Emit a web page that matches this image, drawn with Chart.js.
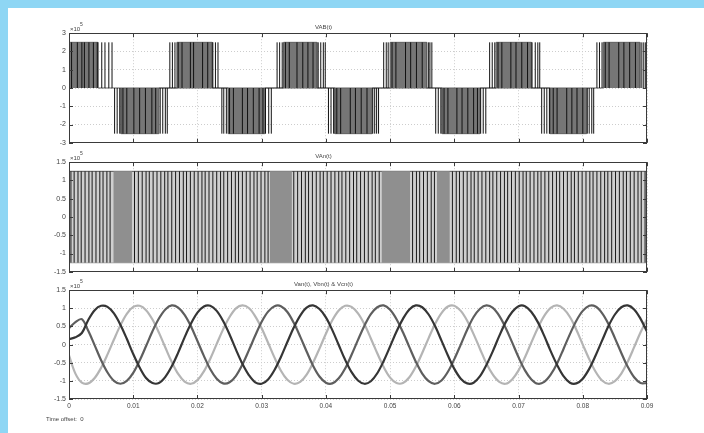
<!DOCTYPE html>
<html>
<head>
<meta charset="utf-8">
<script src="https://cdn.jsdelivr.net/npm/chart.js@4.4.1/dist/chart.umd.min.js"></script>
<style>
  html, body { margin: 0; padding: 0; background: #fff; }
  body { width: 704px; height: 433px; position: relative; overflow: hidden; font-family: "Liberation Sans", Arial, sans-serif; }
  .band-top { position: absolute; left: 0; top: 0; width: 704px; height: 8px; background: #8ed6f4; }
  .band-left { position: absolute; left: 0; top: 0; width: 8px; height: 433px; background: #8ed6f4; }
  canvas { position: absolute; left: 0; }
  #offset { position: absolute; left: 46px; top: 416px; font-size: 6px; color: #444; white-space: pre; }
</style>
</head>
<body>
<div class="band-top"></div>
<div class="band-left"></div>
<canvas id="vabChart" width="704" height="150" style="top:0px"></canvas>
<canvas id="vanChart" width="704" height="150" style="top:129px"></canvas>
<canvas id="phaseChart" width="704" height="159" style="top:257px"></canvas>
<div id="offset">Time offset:  0</div>
<script>
// ---- data (voltages in units of 1e5 V, times in ms) ----
const vabLevel = 2.5;
const vanLevel = 1.25;

// dense (grey) part of each VAB half-cycle
const vabPosCoreStart = [0, 16.8, 33.4, 50.0, 66.5, 83.2];
const vabPosCoreEnd   = [4.5, 22.3, 38.6, 55.7, 72.0, 88.9];
const vabNegCoreStart = [8.1, 24.8, 41.4, 58.1, 74.9];
const vabNegCoreEnd   = [14.0, 30.5, 47.2, 64.0, 80.6];

// individual switching pulses visible as black lines
const vabPosLines = [0.4, 1.3, 2.0, 2.4, 3.1, 3.8, 4.4, 5.1, 5.6, 6.2, 6.7,
  15.7, 16.1, 16.5, 17.0, 17.6, 18.9, 19.4, 20.8, 21.6, 22.4, 22.8, 23.2,
  32.4, 32.8, 33.2, 33.7, 34.3, 35.5, 36.4, 37.2, 38.0, 38.8, 39.2, 39.6, 39.9,
  49.0, 49.4, 49.7, 50.3, 50.9, 52.4, 53.2, 54.1, 55.0, 56.0, 56.2, 56.5,
  65.5, 65.9, 66.3, 66.8, 67.4, 68.8, 69.6, 70.5, 71.4, 72.1, 72.6, 73.0, 73.3,
  82.2, 82.6, 83.0, 83.5, 84.1, 85.6, 86.4, 87.3, 88.2, 89.2, 89.5, 89.8];
const vabNegLines = [7.1, 7.5, 7.9, 8.4, 9.0, 10.1, 11.0, 11.9, 12.9, 13.5, 14.2, 14.6, 15.0, 15.3,
  23.8, 24.1, 24.5, 25.0, 25.6, 27.0, 27.8, 28.7, 29.6, 30.2, 30.6, 31.1, 31.5,
  40.4, 40.8, 41.2, 41.7, 42.3, 43.8, 44.6, 45.5, 46.4, 47.3, 47.6, 47.9, 48.2,
  57.1, 57.5, 57.9, 58.4, 59.0, 60.4, 61.2, 62.1, 63.0, 63.6, 64.1, 64.5, 64.9,
  73.6, 74.0, 74.4, 74.8, 75.4, 76.0, 77.5, 78.3, 79.1, 80.0, 80.7, 81.0, 81.4, 81.7];

// VAn: darker stretches of the band and visible switching lines
const vanDarkStart = [6.9, 31.3, 48.7, 57.3];
const vanDarkEnd   = [9.8, 34.7, 53.1, 59.3];
const vanLines = [0.3, 0.8, 1.4, 1.9, 2.5, 3.1, 3.6, 4.2, 4.8, 5.3, 5.9, 6.4,
  10.2, 10.8, 11.4, 12.0, 12.5, 13.1, 13.7, 14.3, 14.9, 15.4, 16.0, 16.6, 17.2, 17.8, 18.3, 18.9,
  19.5, 20.1, 20.7, 21.2, 21.8, 22.4, 23.0, 23.6, 24.1, 24.7, 25.3, 25.9, 26.4, 27.0, 27.6, 28.2,
  28.8, 29.3, 29.9, 30.5, 31.0,
  35.0, 35.6, 36.2, 36.8, 37.3, 37.9, 38.5, 39.1, 39.6, 40.2, 40.8, 41.4, 42.0, 42.5, 43.1, 43.7,
  44.3, 44.8, 45.4, 46.0, 46.6, 47.2, 47.7, 48.3,
  53.5, 54.1, 54.6, 55.2, 55.8, 56.4, 56.9,
  59.7, 60.3, 60.8, 61.4, 62.0, 62.6, 63.1, 63.7, 64.3, 64.9, 65.5, 66.0, 66.6, 67.2, 67.8, 68.3,
  68.9, 69.5, 70.1, 70.7, 71.2, 71.8, 72.4, 73.0, 73.5, 74.1, 74.7, 75.3, 75.9, 76.4, 77.0, 77.6,
  78.2, 78.7, 79.3, 79.9, 80.5, 81.1, 81.6, 82.2, 82.8, 83.4, 83.9, 84.5, 85.1, 85.7, 86.3, 86.8,
  87.4, 88.0, 88.6, 89.1, 89.7];

// phase voltages sampled every 1 ms from 0 to 90 ms
const sampleStepMs = 1;
const vanSeries = [0.15, 0.20, 0.32, 0.68, 0.95, 1.07, 1.04, 0.86, 0.55, 0.16,
  -0.26, -0.63, -0.92, -1.06, -1.06, -0.89, -0.60, -0.22, 0.20, 0.58,
  0.88, 1.05, 1.07, 0.93, 0.65, 0.28, -0.14, -0.53, -0.84, -1.04,
  -1.08, -0.96, -0.70, -0.34, 0.07, 0.47, 0.80, 1.02, 1.08, 0.98,
  0.75, 0.40, -0.01, -0.42, -0.76, -0.99, -1.08, -1.01, -0.79, -0.45,
  -0.05, 0.36, 0.71, 0.97, 1.08, 1.03, 0.83, 0.51, 0.11, -0.30,
  -0.67, -0.94, -1.07, -1.05, -0.87, -0.56, -0.18, 0.24, 0.62, 0.90,
  1.06, 1.06, 0.90, 0.62, 0.24, -0.18, -0.56, -0.87, -1.05, -1.07,
  -0.94, -0.67, -0.30, 0.11, 0.51, 0.83, 1.03, 1.08, 0.97, 0.71, 0.36];
const vbnSeries = [-0.30, -0.80, -1.05, -1.07, -0.92, -0.64, -0.27, 0.14, 0.53, 0.85,
  1.04, 1.07, 0.95, 0.69, 0.33, -0.08, -0.48, -0.81, -1.02, -1.08,
  -0.98, -0.74, -0.39, 0.02, 0.42, 0.76, 1.00, 1.08, 1.01, 0.78,
  0.45, 0.05, -0.36, -0.72, -0.97, -1.08, -1.03, -0.83, -0.50, -0.11,
  0.30, 0.67, 0.94, 1.07, 1.04, 0.86, 0.56, 0.17, -0.24, -0.62,
  -0.91, -1.06, -1.06, -0.90, -0.61, -0.23, 0.18, 0.57, 0.87, 1.05,
  1.07, 0.93, 0.66, 0.29, -0.12, -0.52, -0.83, -1.03, -1.08, -0.96,
  -0.71, -0.35, 0.06, 0.46, 0.79, 1.01, 1.08, 0.99, 0.76, 0.41,
  0.00, -0.40, -0.75, -0.99, -1.08, -1.01, -0.80, -0.47, -0.07, 0.34, 0.70];
const vcnSeries = [0.45, 0.62, 0.70, 0.38, -0.02, -0.43, -0.77, -1.00, -1.08, -1.00,
  -0.78, -0.44, -0.04, 0.37, 0.72, 0.97, 1.08, 1.02, 0.82, 0.50,
  0.10, -0.31, -0.68, -0.94, -1.07, -1.04, -0.86, -0.55, -0.16, 0.25,
  0.63, 0.91, 1.06, 1.06, 0.90, 0.60, 0.22, -0.19, -0.58, -0.88,
  -1.05, -1.07, -0.93, -0.66, -0.28, 0.13, 0.52, 0.84, 1.03, 1.08,
  0.96, 0.70, 0.34, -0.07, -0.47, -0.80, -1.01, -1.08, -0.99, -0.75,
  -0.40, 0.00, 0.41, 0.76, 0.99, 1.08, 1.01, 0.79, 0.46, 0.06,
  -0.35, -0.71, -0.96, -1.08, -1.03, -0.83, -0.52, -0.12, 0.29, 0.66,
  0.93, 1.07, 1.05, 0.87, 0.57, 0.18, -0.23, -0.61, -0.90, -1.06, -1.06];

// ---- helpers ----
const FONT = '"Liberation Sans", Arial, sans-serif';

function blockPoints(starts, ends, lo, hi) {
  const pts = [];
  starts.forEach((s, i) => {
    pts.push({x: s / 1000, y: lo}, {x: s / 1000, y: hi}, {x: ends[i] / 1000, y: hi}, {x: ends[i] / 1000, y: lo});
  });
  return pts;
}

function linePoints(times, lo, hi) {
  const pts = [];
  times.forEach(t => {
    pts.push({x: t / 1000, y: lo}, {x: t / 1000, y: hi}, {x: t / 1000, y: null});
  });
  return pts;
}

// box, inward tick marks and the x10^5 exponent, as on a scope
const scopeFrame = {
  id: 'scopeFrame',
  afterDraw(chart) {
    const {ctx, chartArea: a, scales: {x, y}} = chart;
    ctx.save();
    ctx.strokeStyle = '#3a3a3a';
    ctx.lineWidth = 1;
    ctx.strokeRect(Math.round(a.left) + 0.5, Math.round(a.top) + 0.5, Math.round(a.width) - 1, Math.round(a.height) - 1);
    ctx.beginPath();
    x.ticks.forEach(t => {
      const px = Math.round(x.getPixelForValue(t.value)) + 0.5;
      ctx.moveTo(px, a.top); ctx.lineTo(px, a.top + 4);
      ctx.moveTo(px, a.bottom); ctx.lineTo(px, a.bottom - 4);
    });
    y.ticks.forEach(t => {
      const py = Math.round(y.getPixelForValue(t.value)) + 0.5;
      ctx.moveTo(a.left, py); ctx.lineTo(a.left + 4, py);
      ctx.moveTo(a.right, py); ctx.lineTo(a.right - 4, py);
    });
    ctx.stroke();
    ctx.fillStyle = '#444';
    ctx.textBaseline = 'alphabetic';
    ctx.font = '6px ' + FONT;
    ctx.fillText('\u00d710', a.left + 1, a.top - 2);
    ctx.font = '5px ' + FONT;
    ctx.fillText('5', a.left + 11, a.top - 7);
    ctx.restore();
  }
};

function scopeOptions(cfg) {
  return {
    responsive: false,
    animation: false,
    devicePixelRatio: 1,
    layout: { padding: { top: 23.5, bottom: cfg.padBottom, left: 0, right: 57 } },
    plugins: {
      legend: { display: false },
      tooltip: { enabled: false },
      title: {
        display: true,
        text: cfg.title,
        color: '#444',
        font: { family: FONT, size: 6, weight: 'normal' },
        padding: { top: 0, bottom: 2.5 }
      }
    },
    elements: { point: { radius: 0 } },
    scales: {
      x: {
        type: 'linear', min: 0, max: 0.09, offset: false,
        ticks: { display: cfg.showX, stepSize: 0.01, color: '#444', font: { family: FONT, size: 6.5 }, padding: 3,
                 maxRotation: 0, autoSkip: false, callback: v => String(+v.toFixed(3)) },
        grid: { color: '#cdcdcd', drawTicks: false, offset: false },
        border: { display: false, dash: [1, 2] },
        afterFit: s => { s.height = cfg.xHeight; }
      },
      y: {
        min: cfg.yMin, max: cfg.yMax,
        ticks: { stepSize: cfg.yStep, color: '#444', font: { family: FONT, size: 7 }, padding: 3,
                 callback: v => String(+v.toFixed(2)) },
        grid: { color: '#cdcdcd', drawTicks: false },
        border: { display: false, dash: [1, 2] },
        afterFit: s => { s.width = 69; }
      }
    }
  };
}

// ---- VAB(t) ----
new Chart(document.getElementById('vabChart').getContext('2d'), {
  type: 'line',
  data: {
    datasets: [
      { data: linePoints(vabPosLines, 0, vabLevel), borderColor: '#111', borderWidth: 1, fill: false },
      { data: linePoints(vabNegLines, -vabLevel, 0), borderColor: '#111', borderWidth: 1, fill: false },
      { data: blockPoints(vabPosCoreStart, vabPosCoreEnd, 0, vabLevel), borderColor: '#5e5e5e', borderWidth: 1,
        fill: 'origin', backgroundColor: '#767676' },
      { data: blockPoints(vabNegCoreStart, vabNegCoreEnd, 0, -vabLevel), borderColor: '#5e5e5e', borderWidth: 1,
        fill: 'origin', backgroundColor: '#767676' }
    ]
  },
  options: scopeOptions({ title: 'VAB(t)', yMin: -3, yMax: 3, yStep: 1, showX: false, xHeight: 0, padBottom: 7 }),
  plugins: [scopeFrame]
});

// ---- VAn(t) ----
new Chart(document.getElementById('vanChart').getContext('2d'), {
  type: 'line',
  data: {
    datasets: [
      { data: linePoints(vanLines, -vanLevel, vanLevel), borderColor: '#1a1a1a', borderWidth: 1, fill: false },
      { data: blockPoints(vanDarkStart, vanDarkEnd, -vanLevel, vanLevel), borderWidth: 0,
        fill: { value: -vanLevel }, backgroundColor: '#8f8f8f' },
      { data: [{x: 0, y: vanLevel}, {x: 0.09, y: vanLevel}], borderColor: '#555', borderWidth: 1,
        fill: { value: -vanLevel }, backgroundColor: '#cfcfcf' },
      { data: [{x: 0, y: -vanLevel}, {x: 0.09, y: -vanLevel}], borderColor: '#555', borderWidth: 1, fill: false }
    ]
  },
  options: scopeOptions({ title: 'VAn(t)', yMin: -1.5, yMax: 1.5, yStep: 0.5, showX: false, xHeight: 0, padBottom: 7 }),
  plugins: [scopeFrame]
});

// ---- Van, Vbn, Vcn ----
const toPts = arr => arr.map((v, i) => ({ x: i * sampleStepMs / 1000, y: v }));
new Chart(document.getElementById('phaseChart').getContext('2d'), {
  type: 'line',
  data: {
    datasets: [
      { label: 'Van', data: toPts(vanSeries), borderColor: '#353535', borderWidth: 2.2, tension: 0.35, fill: false },
      { label: 'Vcn', data: toPts(vcnSeries), borderColor: '#5e5e5e', borderWidth: 2.2, tension: 0.35, fill: false },
      { label: 'Vbn', data: toPts(vbnSeries), borderColor: '#b4b4b4', borderWidth: 2.2, tension: 0.35, fill: false }
    ]
  },
  options: scopeOptions({ title: 'Van(t), Vbn(t) & Vcn(t)', yMin: -1.5, yMax: 1.5, yStep: 0.5, showX: true, xHeight: 17, padBottom: 0 }),
  plugins: [scopeFrame]
});
</script>
</body>
</html>
